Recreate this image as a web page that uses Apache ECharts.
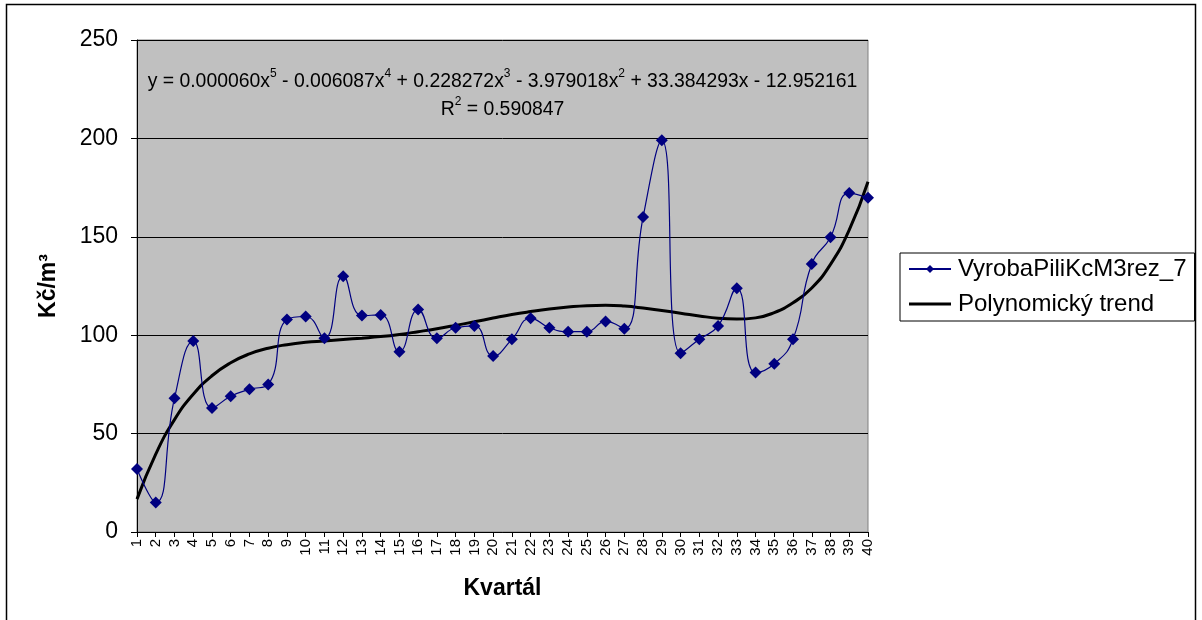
<!DOCTYPE html>
<html>
<head>
<meta charset="utf-8">
<script src="https://cdn.jsdelivr.net/npm/echarts@6/dist/echarts.min.js"></script>
<style>
  html, body { margin: 0; padding: 0; background: #fff; }
  #chart { width: 1202px; height: 620px; }
</style>
</head>
<body>
<div id="chart"></div>
<script>
// Quarter numbers 1..40
const quarters = ['1','2','3','4','5','6','7','8','9','10','11','12','13','14','15','16','17','18','19','20',
                  '21','22','23','24','25','26','27','28','29','30','31','32','33','34','35','36','37','38','39','40'];

// Production cost, Kč/m³
const costValues = [32, 15, 68, 97, 63, 69, 72.5, 75, 108, 109.5,
                    98.5, 130, 110, 110.3, 91.6, 113, 98.4, 103.8, 104.7, 89.4,
                    97.9, 108.6, 103.8, 101.8, 101.8, 107, 103.3, 160, 199, 90.8,
                    97.9, 104.7, 123.8, 81, 85.5, 97.9, 136.2, 149.8, 172.2, 169.8];

// Polynomial trend (5th order) values at each quarter
const trendValues = [16.7, 39.6, 57.1, 70.0, 79.4, 86.0, 90.5, 93.4, 95.2, 96.4,
                     97.1, 97.8, 98.5, 99.3, 100.4, 101.8, 103.3, 105, 106.8, 108.7,
                     110.5, 112, 113.3, 114.3, 115, 115.2, 114.8, 113.8, 112.5, 111.2,
                     109.8, 108.6, 108.2, 108.8, 111.5, 116.5, 124, 136, 153.5, 178];

const yTicks = { min: 0, max: 250, interval: 50 };

const seriesNames = ['VyrobaPiliKcM3rez_7', 'Polynomický trend'];

const FONT = '"Liberation Sans", Arial, sans-serif';

const chart = echarts.init(document.getElementById('chart'), null, { renderer: 'canvas' });

// plot area edges
const PLOT_LEFT = 137, PLOT_RIGHT = 868;
const eqX = (PLOT_LEFT + PLOT_RIGHT) / 2;

chart.setOption({
  animation: false,
  backgroundColor: '#ffffff',
  textStyle: { fontFamily: FONT, color: '#000' },
  grid: {
    left: PLOT_LEFT, right: 1202 - PLOT_RIGHT, top: 40, bottom: 88,
    show: true,
    backgroundColor: '#c0c0c0',
    borderColor: '#808080',
    borderWidth: 1
  },
  legend: {
    orient: 'vertical',
    left: 900, top: 253,
    data: [
      { name: seriesNames[0] },
      { name: seriesNames[1], icon: 'path://M0,0 L42,0 L42,3 L0,3 Z', itemStyle: { color: '#000' } }
    ],
    itemWidth: 42, itemHeight: 10, itemGap: 11,
    padding: [4, 8, 5, 8],
    borderColor: '#000', borderWidth: 1,
    textStyle: { fontFamily: FONT, fontSize: 24, color: '#000', padding: [0, 0, 0, 2] }
  },
  xAxis: {
    type: 'category',
    data: quarters,
    boundaryGap: false,
    name: 'Kvartál',
    nameLocation: 'middle',
    nameGap: 45,
    nameTextStyle: { fontFamily: FONT, fontSize: 23, fontWeight: 'bold', color: '#000' },
    axisLine: { lineStyle: { color: '#000', width: 1 } },
    axisTick: { alignWithLabel: true, length: 5, lineStyle: { color: '#000' } },
    axisLabel: { rotate: 90, fontSize: 15, color: '#000', margin: 7, interval: 0, fontFamily: FONT },
    splitLine: { show: false }
  },
  yAxis: {
    type: 'value',
    min: yTicks.min, max: yTicks.max, interval: yTicks.interval,
    name: 'Kč/m³',
    nameLocation: 'middle',
    nameGap: 77,
    nameRotate: 90,
    nameTextStyle: { fontFamily: FONT, fontSize: 23, fontWeight: 'bold', color: '#000' },
    axisLine: { show: true, lineStyle: { color: '#000', width: 1 } },
    axisTick: { show: true, length: 6, lineStyle: { color: '#000' } },
    axisLabel: { fontSize: 23, color: '#000', margin: 19, fontFamily: FONT },
    splitLine: { show: true, lineStyle: { color: '#000', width: 1 } }
  },
  series: [
    {
      name: seriesNames[0],
      type: 'line',
      data: costValues,
      smooth: 0.5,
      symbol: 'diamond',
      symbolSize: 12,
      itemStyle: { color: '#000080' },
      lineStyle: { color: '#000080', width: 1.2 },
      z: 3
    },
    {
      name: seriesNames[1],
      type: 'line',
      data: trendValues,
      smooth: true,
      symbol: 'none',
      itemStyle: { color: '#000' },
      lineStyle: { color: '#000', width: 3 },
      z: 2
    }
  ],
  graphic: [
    {
      type: 'rect',
      silent: true,
      shape: { x: 6.5, y: 4.5, width: 1189, height: 640 },
      style: { fill: 'none', stroke: '#000', lineWidth: 1.5 },
      z: -1
    },
    {
      type: 'text',
      x: eqX,
      y: 82,
      silent: true,
      z: 10,
      style: {
        text: 'y = 0.000060x{s|5} - 0.006087x{s|4} + 0.228272x{s|3} - 3.979018x{s|2} + 33.384293x - 12.952161',
        align: 'center', verticalAlign: 'middle',
        fontFamily: FONT, fontSize: 19.4, fill: '#000',
        lineHeight: 28,
        rich: { s: { fontSize: 12, verticalAlign: 'top', lineHeight: 28, fontFamily: FONT } }
      }
    },
    {
      type: 'text',
      x: eqX,
      y: 110,
      silent: true,
      z: 10,
      style: {
        text: 'R{s|2} = 0.590847',
        align: 'center', verticalAlign: 'middle',
        fontFamily: FONT, fontSize: 19.4, fill: '#000',
        lineHeight: 28,
        rich: { s: { fontSize: 12, verticalAlign: 'top', lineHeight: 28, fontFamily: FONT } }
      }
    }
  ]
});
</script>
</body>
</html>
